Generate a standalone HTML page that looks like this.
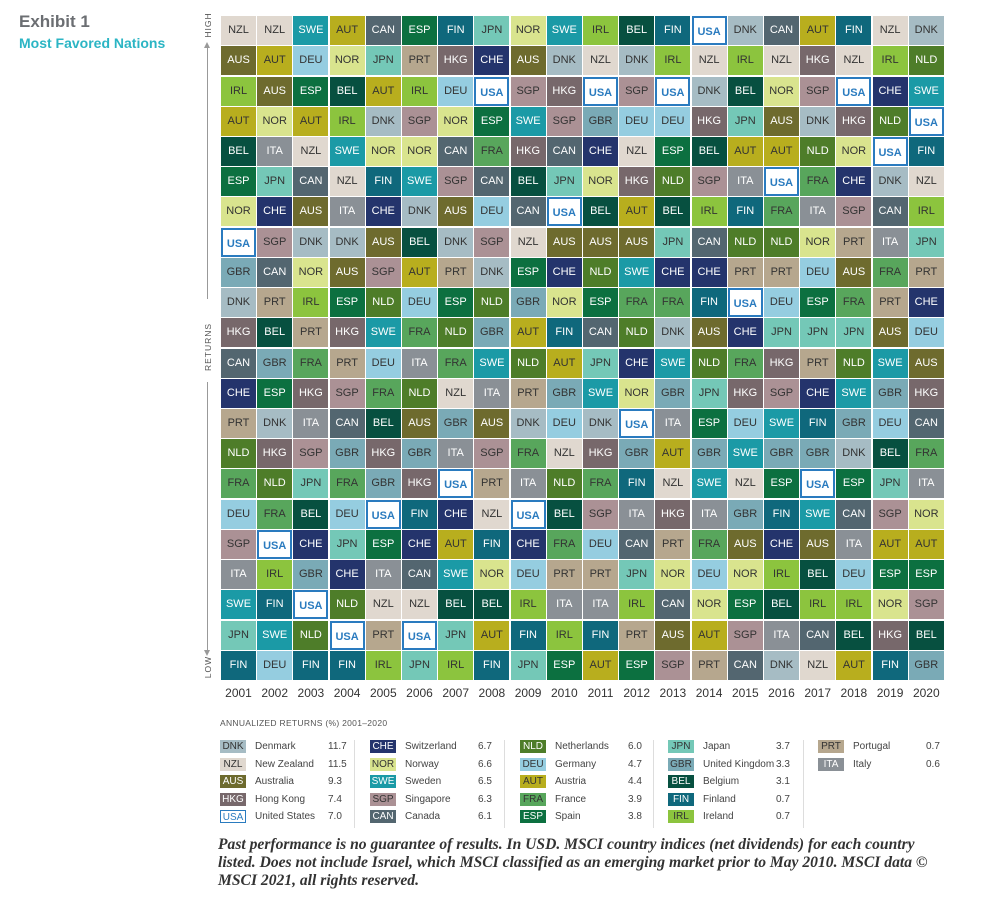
<!DOCTYPE html>
<html><head><meta charset="utf-8"><style>
body{margin:0;width:983px;height:902px;background:#fff;position:relative;overflow:hidden;font-family:"Liberation Sans",sans-serif}
.t1{position:absolute;left:19px;top:12px;font-size:17px;font-weight:bold;color:#6b6e72}
.t2{position:absolute;left:19px;top:35px;font-size:14px;font-weight:bold;color:#2bb5c4}
.c{position:absolute;width:35px;height:29px;line-height:29px;text-align:center;font-size:11px;box-sizing:border-box}
.yr{position:absolute;top:686px;width:36px;text-align:center;font-size:12px;color:#333}
.ax{position:absolute;font-size:8.5px;color:#555;letter-spacing:1px;transform:rotate(-90deg);transform-origin:center}
.lg{position:absolute;font-size:10px;color:#444;height:14px;line-height:14px}
.sw{position:absolute;width:26px;height:13px;line-height:13px;text-align:center;font-size:10px;box-sizing:border-box}
.foot{position:absolute;left:218px;top:836px;font-family:"Liberation Serif",serif;font-style:italic;font-weight:bold;font-size:15.6px;line-height:18px;color:#333;white-space:nowrap}
</style></head><body>
<div class="t1">Exhibit 1</div>
<div class="t2">Most Favored Nations</div>
<div style="position:absolute;left:207px;top:44px;width:1px;height:255px;background:#999"></div>
<div style="position:absolute;left:204px;top:42px;width:0;height:0;border-left:3.5px solid transparent;border-right:3.5px solid transparent;border-bottom:6px solid #999"></div>
<div style="position:absolute;left:207px;top:382px;width:1px;height:270px;background:#999"></div>
<div style="position:absolute;left:204px;top:650px;width:0;height:0;border-left:3.5px solid transparent;border-right:3.5px solid transparent;border-top:6px solid #999"></div>
<div class="ax" style="left:188px;top:20px;width:40px;text-align:center">HIGH</div>
<div class="ax" style="left:178px;top:342px;width:60px;text-align:center">RETURNS</div>
<div class="ax" style="left:188px;top:662px;width:40px;text-align:center">LOW</div>
<div id="g"></div>
<div style="position:absolute;left:220px;top:718px;font-size:8.5px;color:#555;letter-spacing:.3px">ANNUALIZED RETURNS (%) 2001–2020</div>
<div id="lg"></div>
<div class="foot">Past performance is no guarantee of results. In USD. MSCI country indices (net dividends) for each country<br>listed. Does not include Israel, which MSCI classified as an emerging market prior to May 2010. MSCI data ©<br>MSCI 2021, all rights reserved.</div>
<script>
var C={NZL:["#e0d8cf","#333"],SWE:["#1b9aa6","#fff"],AUT:["#b8ae1e","#333"],CAN:["#536670","#fff"],ESP:["#0c7040","#fff"],FIN:["#0f687c","#fff"],AUS:["#6e6b2e","#fff"],DEU:["#95cde0","#333"],NOR:["#d9e48e","#333"],JPN:["#74c8b7","#333"],PRT:["#b6a78e","#333"],HKG:["#77686b","#fff"],IRL:["#8cc43e","#333"],BEL:["#075040","#fff"],DNK:["#a6bcc4","#333"],SGP:["#ab9195","#333"],USA:["#fff","#2a7bbf"],CHE:["#24346c","#fff"],NLD:["#4e7d29","#fff"],GBR:["#7aaab6","#333"],ITA:["#8a9096","#fff"],FRA:["#58a65c","#333"]};
var R=["NZL NZL SWE AUT CAN ESP FIN JPN NOR SWE IRL BEL FIN USA DNK CAN AUT FIN NZL DNK",
"AUS AUT DEU NOR JPN PRT HKG CHE AUS DNK NZL DNK IRL NZL IRL NZL HKG NZL IRL NLD",
"IRL AUS ESP BEL AUT IRL DEU USA SGP HKG USA SGP USA DNK BEL NOR SGP USA CHE SWE",
"AUT NOR AUT IRL DNK SGP NOR ESP SWE SGP GBR DEU DEU HKG JPN AUS DNK HKG NLD USA",
"BEL ITA NZL SWE NOR NOR CAN FRA HKG CAN CHE NZL ESP BEL AUT AUT NLD NOR USA FIN",
"ESP JPN CAN NZL FIN SWE SGP CAN BEL JPN NOR HKG NLD SGP ITA USA FRA CHE DNK NZL",
"NOR CHE AUS ITA CHE DNK AUS DEU CAN USA BEL AUT BEL IRL FIN FRA ITA SGP CAN IRL",
"USA SGP DNK DNK AUS BEL DNK SGP NZL AUS AUS AUS JPN CAN NLD NLD NOR PRT ITA JPN",
"GBR CAN NOR AUS SGP AUT PRT DNK ESP CHE NLD SWE CHE CHE PRT PRT DEU AUS FRA PRT",
"DNK PRT IRL ESP NLD DEU ESP NLD GBR NOR ESP FRA FRA FIN USA DEU ESP FRA PRT CHE",
"HKG BEL PRT HKG SWE FRA NLD GBR AUT FIN CAN NLD DNK AUS CHE JPN JPN JPN AUS DEU",
"CAN GBR FRA PRT DEU ITA FRA SWE NLD AUT JPN CHE SWE NLD FRA HKG PRT NLD SWE AUS",
"CHE ESP HKG SGP FRA NLD NZL ITA PRT GBR SWE NOR GBR JPN HKG SGP CHE SWE GBR HKG",
"PRT DNK ITA CAN BEL AUS GBR AUS DNK DEU DNK USA ITA ESP DEU SWE FIN GBR DEU CAN",
"NLD HKG SGP GBR HKG GBR ITA SGP FRA NZL HKG GBR AUT GBR SWE GBR GBR DNK BEL FRA",
"FRA NLD JPN FRA GBR HKG USA PRT ITA NLD FRA FIN NZL SWE NZL ESP USA ESP JPN ITA",
"DEU FRA BEL DEU USA FIN CHE NZL USA BEL SGP ITA HKG ITA GBR FIN SWE CAN SGP NOR",
"SGP USA CHE JPN ESP CHE AUT FIN CHE FRA DEU CAN PRT FRA AUS CHE AUS ITA AUT AUT",
"ITA IRL GBR CHE ITA CAN SWE NOR DEU PRT PRT JPN NOR DEU NOR IRL BEL DEU ESP ESP",
"SWE FIN USA NLD NZL NZL BEL BEL IRL ITA ITA IRL CAN NOR ESP BEL IRL IRL NOR SGP",
"JPN SWE NLD USA PRT USA JPN AUT FIN IRL FIN PRT AUS AUT SGP ITA CAN BEL HKG BEL",
"FIN DEU FIN FIN IRL JPN IRL FIN JPN ESP AUT ESP SGP PRT CAN DNK NZL AUT FIN GBR"];
var h="";
R.forEach(function(r,i){r.split(" ").forEach(function(k,j){var c=C[k];
h+='<div class="c" style="left:'+(221+j*36.2).toFixed(1)+'px;top:'+(16+i*30.23).toFixed(1)+'px;background:'+c[0]+';color:'+c[1]+(k=="USA"?';border:2px solid #2a7bbf;font-weight:bold':'')+'">'+k+'</div>';});});
for(var j=0;j<20;j++)h+='<div class="yr" style="left:'+(221+j*36.2-0.5).toFixed(1)+'px">'+(2001+j)+'</div>';
document.getElementById("g").innerHTML=h;
var L=[["DNK","Denmark","11.7"],["NZL","New Zealand","11.5"],["AUS","Australia","9.3"],["HKG","Hong Kong","7.4"],["USA","United States","7.0"],
["CHE","Switzerland","6.7"],["NOR","Norway","6.6"],["SWE","Sweden","6.5"],["SGP","Singapore","6.3"],["CAN","Canada","6.1"],
["NLD","Netherlands","6.0"],["DEU","Germany","4.7"],["AUT","Austria","4.4"],["FRA","France","3.9"],["ESP","Spain","3.8"],
["JPN","Japan","3.7"],["GBR","United Kingdom","3.3"],["BEL","Belgium","3.1"],["FIN","Finland","0.7"],["IRL","Ireland","0.7"],
["PRT","Portugal","0.7"],["ITA","Italy","0.6"]];
var g="",X=[220,370,520,668,818];
L.forEach(function(e,i){var col=Math.floor(i/5),row=i%5,x=X[col],y=740+row*17.5,c=C[e[0]];
g+='<div class="sw" style="left:'+x+'px;top:'+y+'px;background:'+c[0]+';color:'+c[1]+(e[0]=="USA"?';border:1.5px solid #2a7bbf':'')+'">'+e[0]+'</div>';
g+='<div class="lg" style="left:'+(x+35)+'px;top:'+y+'px">'+e[1]+'</div>';
g+='<div class="lg" style="left:'+(x+108)+'px;top:'+y+'px">'+e[2]+'</div>';});
[354,504,653,803].forEach(function(x){g+='<div style="position:absolute;left:'+x+'px;top:740px;width:1px;height:88px;background:#ddd"></div>';});
document.getElementById("lg").innerHTML=g;
</script>
</body></html>
